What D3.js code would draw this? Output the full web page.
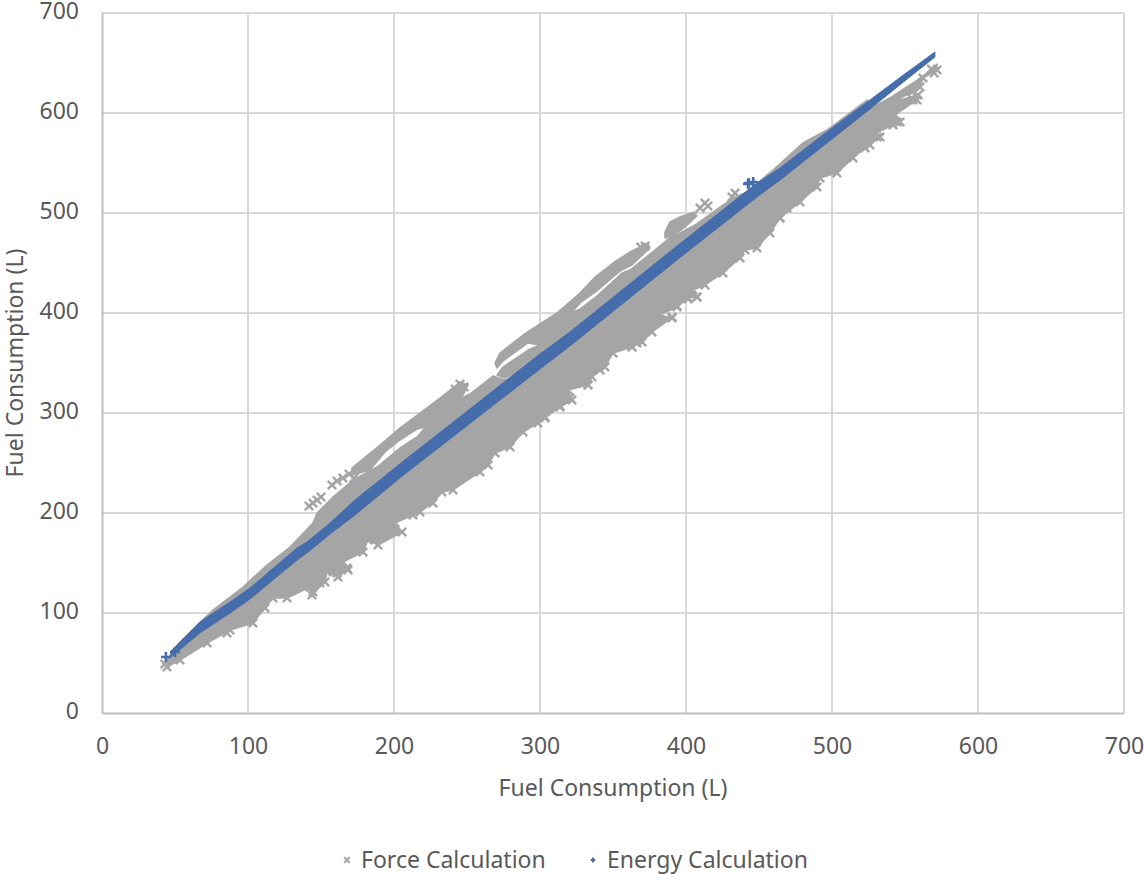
<!DOCTYPE html>
<html><head><meta charset="utf-8">
<script src="https://cdn.jsdelivr.net/npm/d3@7"></script>
<style>html,body{margin:0;padding:0;background:#fff;overflow:hidden}svg{display:block}text{font-family:"Noto Sans",sans-serif;fill:#595959}</style>
</head><body>
<svg id="c" width="1145" height="874"></svg>
<script>
const xTicks=[0,100,200,300,400,500,600,700];
const yTicks=[0,100,200,300,400,500,600,700];
const xTitle="Fuel Consumption (L)", yTitle="Fuel Consumption (L)";
const seriesNames=["Force Calculation","Energy Calculation"];
// Force Calculation: outline of the dense cloud
const forceCloudTop=[[43,51],[53.4,71],[76,103],[96.6,126],[113,148],[128.8,166],[144.5,190],[147.3,200],[158.2,216],[172,233],[188.4,246],[204.1,265],[215.8,276],[224.7,291],[243.2,313],[252,319],[267.8,337],[276,333],[284.2,338],[292.5,347],[298,355],[298.6,368],[321.9,400],[327.4,404],[339,417],[348,429],[356.2,440],[361.6,443],[375.3,459],[387,473],[406.2,488],[423.3,506],[432.2,515],[441.8,521],[459.6,543],[480,570],[496.6,583],[524,613],[528,606],[539.7,615],[555.5,630],[570.5,646],[572,649]];
const forceCloudBottom=[[571.9,643],[562.3,635],[560.3,626],[554.8,621],[541.8,611],[558.9,618],[558.2,613],[543.2,598],[546.6,591],[541.8,588],[527.4,578],[532.9,576],[522.6,565],[514.4,555],[503.4,540],[491.8,535],[489.7,526],[478.1,511],[464.4,495],[457.5,480],[448.6,465],[440.4,463],[437,455],[425.3,440],[413,428],[404.8,423],[407.5,416],[401.4,415],[393.8,406],[382.2,398],[390.4,395],[376.7,381],[369.9,371],[363,366],[350,360],[344.5,346],[341.1,343],[335.6,336],[332.9,328],[319.2,323],[321.9,313],[313.7,306],[303.4,295],[298.6,290],[288.4,281],[279.5,266],[269.2,260],[264.4,248],[258.9,241],[240.4,223],[232.9,221],[226.7,210],[217.8,201],[213,198],[200.7,190],[205.5,181],[189,168],[182.2,173],[178.8,161],[165,151],[168.5,143],[161.6,136],[154.1,141],[152.7,131],[143.8,118],[142.5,126],[126.7,115],[117.1,115],[111.6,105],[103.4,90],[87.7,83],[72,70],[53.4,53],[44.5,46]];
const forceStrandA=[[171.2,245],[190.4,268],[204,285],[217.8,300],[231.5,315],[245.2,331],[250.7,328],[247.3,318],[238.4,305],[224.7,287],[215.8,284],[204.1,273],[193.8,261],[183.6,243],[171.2,238]];
const forceStrandB=[[269.2,350],[272.6,360],[288.4,378],[311.6,400],[327.4,420],[337.7,436],[350,450],[361.6,461],[374,470],[375.3,465],[363,448],[356,443],[350,436],[339,422],[327.4,410],[311.6,383],[300,368],[291.8,370],[274.7,352],[270.5,345]];
const forceStrandM=[[270.5,338],[274.7,346],[291.8,363],[300,368],[296.6,353],[285,341],[276,335]];
const forceStrandC=[[385.6,481],[389,491],[395.9,496],[405.5,501],[407.5,497],[399.3,486],[390.4,476],[385.6,475]];
const forceLoose=[[43,49],[141.8,207],[144.5,210],[147.3,213],[150,216],[157.5,228],[161,232],[165,235],[169.2,239],[172.6,235],[245.2,329],[248,326],[242,324],[372,467],[369,466],[409.6,505],[413,510],[415,507],[433.6,520],[431.5,516],[303.4,296],[313.7,307],[320.5,315],[332.9,328],[366.4,370],[363,366],[390.4,396],[393.8,407],[401.4,414],[407.5,416],[144.5,121],[149.3,130],[161,140],[167.8,145],[85.6,80],[544.5,591],[530.8,576],[526,568],[555.5,613],[469.2,505],[464.4,495],[568,644],[570,640]];
// Energy Calculation: x, lower edge, upper edge of the tight band
const energyBand=[[47.3,56,62],[67,80,91],[87.7,100,111],[101.4,114,125],[133.6,153,165],[140.4,160,171],[156.2,179,190],[173.3,198,213],[204,235,249],[300,344,359],[320.5,367,381],[393.8,453,467],[448.6,516,530],[464.4,533,545],[500,574,585],[526,604,613],[548,630,637],[570.5,656,661]];
const energyLoose=[[43.8,56],[50,61],[442.5,529],[443,530],[446,531]];

const FORCE="#A5A5A5",ENERGY="#466DAB",GRID="#D9D9D9",AXIS="#BFBFBF";
const svg=d3.select("#c");
const x=d3.scaleLinear().domain([0,700]).range([102,1124]);
const y=d3.scaleLinear().domain([0,700]).range([713,13]);

// grid
svg.append("g").selectAll("line").data(xTicks.slice(1)).join("line")
 .attr("x1",d=>x(d)).attr("x2",d=>x(d)).attr("y1",y(700)).attr("y2",y(0)).attr("stroke",GRID).attr("stroke-width",2);
svg.append("g").selectAll("line").data(yTicks.slice(1)).join("line")
 .attr("x1",x(0)).attr("x2",x(700)).attr("y1",d=>y(d)).attr("y2",d=>y(d)).attr("stroke",GRID).attr("stroke-width",2);

// axes
const ax=svg.append("g").attr("transform",`translate(0,${y(0)})`).call(d3.axisBottom(x).tickValues(xTicks).tickSize(0).tickPadding(25).tickFormat(d3.format("d")));
const ay=svg.append("g").attr("transform",`translate(${x(0)},0)`).call(d3.axisLeft(y).tickValues(yTicks).tickSize(0).tickPadding(23).tickFormat(d3.format("d")));
[ax,ay].forEach(g=>{g.select(".domain").attr("stroke",AXIS).attr("stroke-width",2);
 g.selectAll("text").attr("font-size",23).attr("font-family",'"Noto Sans",sans-serif').attr("fill","#595959");});
ay.selectAll("text").attr("dy","0.24em");

const line=d3.line().x(d=>x(d[0])).y(d=>y(d[1]));
const gForce=svg.append("g");
const polys=[forceCloudTop.concat(forceCloudBottom),forceStrandA,forceStrandB,forceStrandM,forceStrandC];
gForce.selectAll("path.p").data(polys).join("path").attr("class","p").attr("d",d=>line(d)+"Z").attr("fill",FORCE).attr("stroke",FORCE).attr("stroke-width",1.5).attr("stroke-linejoin","round");
const xMark=d3.symbol().type(d3.symbolX).size(48);
const plus=d3.symbol().type(d3.symbolPlus).size(34);
const forcePts=[...forceCloudBottom,...forceLoose];
gForce.selectAll("path.m").data(forcePts).join("path").attr("class","m").attr("d",xMark)
 .attr("transform",d=>`translate(${x(d[0])},${y(d[1])})`).attr("fill","none").attr("stroke",FORCE).attr("stroke-width",2.4);

const gEnergy=svg.append("g");
gEnergy.append("path").datum(energyBand).attr("d",d3.area().x(d=>x(d[0])).y0(d=>y(d[1])).y1(d=>y(d[2]))).attr("fill",ENERGY).attr("stroke",ENERGY).attr("stroke-width",1);
gEnergy.selectAll("path.m").data(energyLoose).join("path").attr("class","m").attr("d",plus)
 .attr("transform",d=>`translate(${x(d[0])},${y(d[1])})`).attr("fill","none").attr("stroke",ENERGY).attr("stroke-width",2.6);

// titles
svg.append("text").attr("x",613).attr("y",796).attr("text-anchor","middle").attr("font-size",23).text(xTitle);
svg.append("text").attr("transform","translate(23,363) rotate(-90)").attr("text-anchor","middle").attr("font-size",23).text(yTitle);

// legend
const lx=[347,593],tx=[361,607];
seriesNames.forEach((n,i)=>{
 svg.append("path").attr("d",(i?d3.symbol().type(d3.symbolPlus).size(9):d3.symbol().type(d3.symbolX).size(22))())
  .attr("transform",`translate(${lx[i]},860)`).attr("fill","none").attr("stroke",i?ENERGY:FORCE).attr("stroke-width",2);
 svg.append("text").attr("x",tx[i]).attr("y",868).attr("font-size",23).text(n);
});
</script>
</body></html>
